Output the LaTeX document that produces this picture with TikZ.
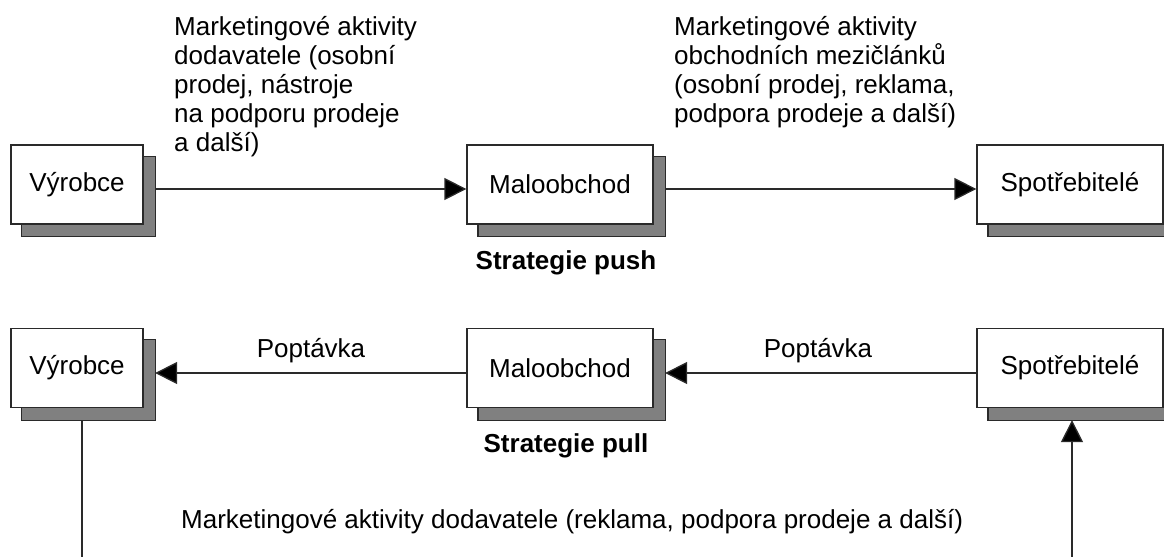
\documentclass[tikz,border=0pt]{standalone}
\usepackage{fontspec}
\setmainfont{Liberation Sans}
\usetikzlibrary{arrows.meta,backgrounds}
\definecolor{linec}{HTML}{2A2A2A}
\definecolor{shadowc}{HTML}{808080}
\tikzset{
  x=1bp, y=-1bp,
  txt/.style={inner sep=0pt, font=\fontsize{26bp}{29bp}\selectfont, text=black},
  boxnode/.style={txt, draw=linec, fill=white, line width=1.3bp, minimum height=79bp},
  shadowrect/.style={draw=linec, fill=shadowc, line width=1.3bp},
  conn/.style={draw=linec, line width=1.3bp},
  arr/.style={conn, -{Triangle[length=22bp,width=22bp,fill=black]}},
  boldtxt/.style={txt, font=\fontsize{26bp}{29bp}\selectfont\bfseries}
}
\begin{document}
\begin{tikzpicture}
\useasboundingbox (0,0) rectangle (1164,557);
\clip (0,0) rectangle (1164,557);
% push row
\node[boxnode, minimum width=132bp] (v1) at (77,184.5) {Výrobce};
\node[boxnode, minimum width=186bp] (m1) at (560,184.5) {Maloobchod};
\node[boxnode, minimum width=186bp] (s1) at (1070,184.5) {Spotřebitelé};
% pull row
\node[boxnode, minimum width=132bp] (v2) at (77,368) {Výrobce};
\node[boxnode, minimum width=186bp] (m2) at (560,368) {Maloobchod};
\node[boxnode, minimum width=186bp] (s2) at (1070,368) {Spotřebitelé};
\begin{scope}[on background layer]
  \fill[white] (0,0) rectangle (1164,557);
  \foreach \n in {v1,m1,s1,v2,m2,s2}
    \path[shadowrect] ([shift={(11.5,12)}]\n.north west) rectangle ([shift={(11.5,12)}]\n.south east);
\end{scope}
% texts
\node[txt, anchor=north west, align=left] (t1) at (174,16) {Marketingové aktivity\\dodavatele (osobní\\prodej, nástroje\\na podporu prodeje\\a další)};
\node[txt, anchor=north west, align=left] (t2) at (674,16) {Marketingové aktivity\\obchodních mezičlánků\\(osobní prodej, reklama,\\podpora prodeje a další)};
\node[boldtxt, anchor=base] (sp1) at (566,270) {Strategie push};
\node[boldtxt, anchor=base] (sp2) at (566,452) {Strategie pull};
\node[txt, anchor=base] (p1) at (311,358) {Poptávka};
\node[txt, anchor=base] (p2) at (818,358) {Poptávka};
\node[txt, anchor=base west] (t3) at (181,528) {Marketingové aktivity dodavatele (reklama, podpora prodeje a další)};
% connectors push
\draw[arr] ([shift={(11.5,4.5)}]v1.east) -- ([shift={(0,4.5)}]m1.west);
\draw[arr] ([shift={(11.5,4.5)}]m1.east) -- ([shift={(0,4.5)}]s1.west);
% connectors pull
\draw[arr] ([shift={(0,5)}]m2.west) -- ([shift={(11.5,5)}]v2.east);
\draw[arr] ([shift={(0,5)}]s2.west) -- ([shift={(11.5,5)}]m2.east);
% vertical lines
\coordinate (vb) at (82,560);
\coordinate (sb) at (1072,560);
\draw[conn] ([shift={(5,12)}]v2.south) -- (vb);
\draw[arr] (sb) -- ([shift={(2,12)}]s2.south);
\end{tikzpicture}
\end{document}
